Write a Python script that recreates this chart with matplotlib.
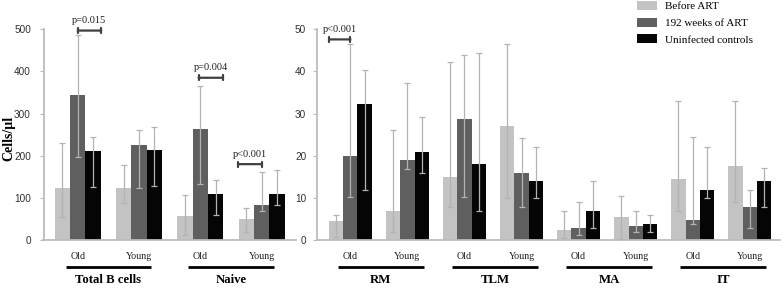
import matplotlib
matplotlib.use("Agg")
import matplotlib.pyplot as plt
import matplotlib.transforms as mtransforms
import numpy as np

# ---------------- data ----------------
series_names = ["Before ART", "192 weeks of ART", "Uninfected controls"]
sub_labels = ["Old", "Young"]

left_groups = ["Total B cells", "Naive"]
before_left = [123, 123, 58, 51]
before_left_lo = [55, 88, 12, 19]
before_left_hi = [229, 179, 107, 77]
art_left = [343, 225, 263, 82]
art_left_lo = [197, 123, 132, 70]
art_left_hi = [486, 260, 366, 161]
ctrl_left = [212, 214, 108, 108]
ctrl_left_lo = [126, 128, 59, 82]
ctrl_left_hi = [245, 269, 142, 165]

right_groups = ["RM", "TLM", "MA", "IT"]
before_right = [4.4, 6.9, 15.0, 27.1, 2.3, 5.4, 14.4, 17.6]
before_right_lo = [0.8, 1.8, 7.8, 9.9, 0.4, 0.2, 6.8, 8.9]
before_right_hi = [5.9, 26.1, 42.2, 46.4, 6.9, 10.4, 33.1, 33.1]
art_right = [20.0, 19.0, 28.6, 15.9, 2.8, 3.3, 4.8, 7.8]
art_right_lo = [10.3, 16.9, 10.3, 7.9, 1.3, 1.9, 3.9, 2.8]
art_right_hi = [46.4, 37.3, 43.9, 24.1, 8.9, 6.9, 24.5, 11.9]
ctrl_right = [32.2, 21.0, 18.0, 13.9, 6.9, 3.8, 11.9, 13.9]
ctrl_right_lo = [11.9, 16.0, 6.9, 9.9, 2.8, 1.8, 9.9, 7.8]
ctrl_right_hi = [40.3, 29.1, 44.3, 22.0, 13.9, 5.9, 22.0, 17.0]

# p-value annotations: (subgroup index, x offset start, x offset end, y, text)
left_pvals = [(0, 0.0, 0.38, 497, "p=0.015"),
              (2, -0.03, 0.37, 385, "p=0.004"),
              (3, -0.38, 0.0, 180, "p<0.001")]
right_pvals = [(0, -0.37, 0.0, 47.6, "p<0.001")]

left_yticks = [0, 100, 200, 300, 400, 500]
right_yticks = [0, 10, 20, 30, 40, 50]

# ---------------- style ----------------
colors = ["#c3c3c3", "#5f5f5f", "#050505"]
err_color = "#b3b3b3"
spine_color = "#bcbcbc"
serif = ["Liberation Serif", "DejaVu Serif"]
sans = ["Liberation Sans", "DejaVu Sans"]
W, H = 784, 289

fig = plt.figure(figsize=(W / 100, H / 100), dpi=100)
ax_l = fig.add_axes([43.5 / W, 1 - 240 / H, 252.5 / W, 210.7 / H])
ax_r = fig.add_axes([316.7 / W, 1 - 240 / H, 463.3 / W, 210.7 / H])

bw = 0.25


def draw_panel(ax, groups, vals, los, his, ylim, yticks, xlim, pvals, line_span, ytick_pad):
    n = len(vals[0])
    x = np.arange(n)
    for k in range(3):
        xs = x + (k - 1) * bw
        v = np.array(vals[k], dtype=float)
        lo = np.array(los[k], dtype=float)
        hi = np.array(his[k], dtype=float)
        ax.bar(xs, v, width=bw, color=colors[k], edgecolor="none",
               label=series_names[k], zorder=2)
        ax.errorbar(xs, v, yerr=[v - lo, hi - v], fmt="none", ecolor=err_color,
                    elinewidth=0.9, capsize=2.0, capthick=0.9, zorder=3,
                    clip_on=False)
    ax.set_xlim(*xlim)
    ax.set_ylim(*ylim)
    ax.set_yticks(yticks)
    ax.set_xticks(x, [sub_labels[i % 2] for i in range(n)])
    for s in ["top", "right"]:
        ax.spines[s].set_visible(False)
    for s in ["left", "bottom"]:
        ax.spines[s].set_color(spine_color)
        ax.spines[s].set_linewidth(1.3)
    ax.tick_params(axis="y", length=3, width=0.8, color=spine_color, pad=ytick_pad,
                   labelsize=7.2, labelcolor="#303030")
    for t in ax.get_yticklabels():
        t.set_fontfamily(sans)
    ax.tick_params(axis="x", length=0, pad=8.5, labelsize=7.2, labelcolor="#202020")
    for t in ax.get_xticklabels():
        t.set_fontfamily(serif)

    trans = mtransforms.blended_transform_factory(ax.transData, ax.transAxes)
    for g, name in enumerate(groups):
        x0 = 2 * g + line_span[0]
        x1 = 2 * g + 1 + line_span[1]
        ax.plot([x0, x1], [-0.128, -0.128], transform=trans, color="black",
                lw=2.0, clip_on=False, solid_capstyle="butt")
        ax.text((x0 + x1) / 2, -0.19, name, transform=trans, ha="center", va="center",
                fontsize=9.2, fontweight="bold", family=serif)

    for idx, a, b, yv, txt in pvals:
        ax.annotate("", xy=(idx + a, yv), xytext=(idx + b, yv),
                    arrowprops=dict(arrowstyle="|-|, widthA=0.18, widthB=0.18",
                                    color="#404040", lw=1.6, shrinkA=0, shrinkB=0),
                    annotation_clip=False)
        ax.annotate(txt, xy=(idx + (a + b) / 2, yv), xytext=(0, 7.3),
                    textcoords="offset points", ha="center", va="center",
                    fontsize=7.5, family=serif, color="#202020",
                    annotation_clip=False)


draw_panel(ax_l, left_groups,
           [before_left, art_left, ctrl_left],
           [before_left_lo, art_left_lo, ctrl_left_lo],
           [before_left_hi, art_left_hi, ctrl_left_hi],
           (0, 500), left_yticks, (-0.56, 3.56), left_pvals, (-0.2, 0.2), 6)
draw_panel(ax_r, right_groups,
           [before_right, art_right, ctrl_right],
           [before_right_lo, art_right_lo, ctrl_right_lo],
           [before_right_hi, art_right_hi, ctrl_right_hi],
           (0, 50), right_yticks, (-0.59, 7.53), right_pvals, (-0.22, 0.29), 4.5)

ax_l.set_ylabel("Cells/µl", fontsize=10, fontweight="bold", family=serif)
ax_l.yaxis.set_label_coords(-28 / 252.5, 0.484)

handles, labels = ax_r.get_legend_handles_labels()
fig.legend(handles, labels, loc="upper left", bbox_to_anchor=(637 / W, 1 - 1 / H),
           frameon=False, prop={"family": serif, "size": 8},
           handlelength=1.8, handleheight=0.9, handletextpad=0.75,
           labelspacing=0.55, borderpad=0, borderaxespad=0)

fig.savefig("out.png", dpi=100)
